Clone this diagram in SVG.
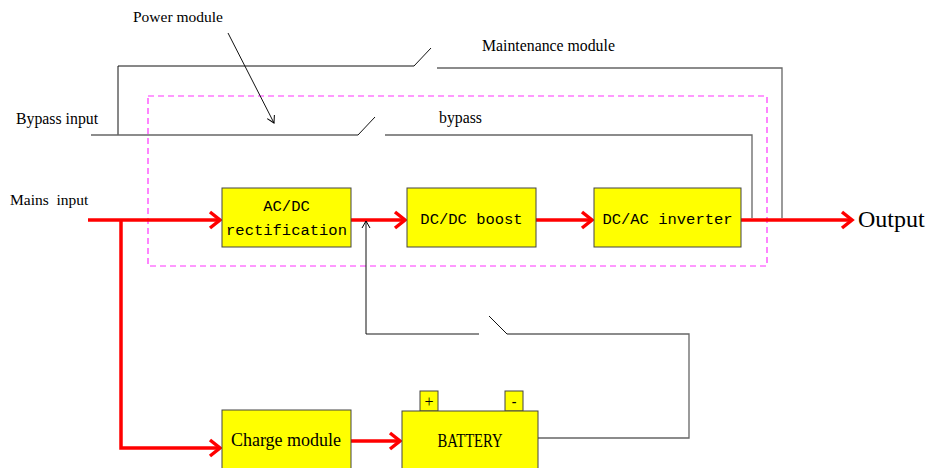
<svg xmlns="http://www.w3.org/2000/svg" width="929" height="468" viewBox="0 0 929 468">
<style>
.serif{font-family:"Liberation Serif","Times New Roman",serif;fill:#000}
.mono{font-family:"Liberation Mono","Courier New",monospace;fill:#000;font-size:15.5px}
.box{fill:#ffff00;stroke:#444;stroke-width:1}
.red{fill:none;stroke:#ff0000;stroke-width:3.5}
.thin{fill:none;stroke:#111;stroke-width:1}
.grey{fill:none;stroke:#666;stroke-width:1.3}
.dash{fill:none;stroke:#ff33ff;stroke-width:1.2;stroke-dasharray:6 4}
</style>
<defs>
<marker id="ra" markerUnits="userSpaceOnUse" viewBox="0 0 16 20" markerWidth="16" markerHeight="20" refX="13" refY="10" orient="auto">
<path d="M3,2 L13,10 L3,18" fill="none" stroke="#ff0000" stroke-width="3.5"/>
</marker>
<marker id="ba" markerUnits="userSpaceOnUse" viewBox="0 0 10 10" markerWidth="10" markerHeight="10" refX="9" refY="5" orient="auto">
<path d="M2,1 L9,5 L2,9" fill="none" stroke="#000" stroke-width="1"/>
</marker>
</defs>
<rect width="929" height="468" fill="#fff"/>

<g id="labels">
<text class="serif" x="133" y="22" font-size="15.5">Power module</text>
<text class="serif" x="482" y="51" font-size="15.8">Maintenance module</text>
<text class="serif" x="16" y="124" font-size="15.8">Bypass input</text>
<text class="serif" x="439" y="123" font-size="15.8">bypass</text>
<text class="serif" x="10" y="205" font-size="15.5" xml:space="preserve">Mains  input</text>
<text class="serif" x="858" y="227" font-size="24">Output</text>
</g>

<g id="power-module">
<rect class="dash" x="148" y="96" width="619" height="170"/>
</g>

<g id="connectors">
<path class="thin" d="M228,33 L274,123" marker-end="url(#ba)"/>
<path class="thin" d="M118,135 V66 H414 L431,48"/>
<path class="grey" d="M437,68 H782 V218"/>
<path class="grey" d="M91,135 H358"/>
<path class="thin" d="M358,135 L375,117"/>
<path class="grey" d="M385,135 H752 V218"/>
<path class="red" d="M88,220 H220" marker-end="url(#ra)"/>
<path class="red" d="M121,220 V448 H220" marker-end="url(#ra)"/>
<path class="red" d="M351,220 H405" marker-end="url(#ra)"/>
<path class="red" d="M536,220 H592" marker-end="url(#ra)"/>
<path class="red" d="M741,220 H852" marker-end="url(#ra)"/>
<path class="red" d="M351,441 H400" marker-end="url(#ra)"/>
<path class="grey" d="M538,438 H689 V334 H507"/>
<path class="thin" d="M507,334 L489,316"/>
<path class="grey" d="M479,334 H366"/>
<path class="thin" d="M366,334 V221" marker-end="url(#ba)"/>
</g>

<g id="acdc">
<rect class="box" x="222" y="188" width="129" height="59"/>
<text class="mono" x="286.5" y="211" text-anchor="middle">AC/DC</text>
<text class="mono" x="286.5" y="235" text-anchor="middle">rectification</text>
</g>
<g id="dcdc">
<rect class="box" x="407" y="188" width="129" height="59"/>
<text class="mono" x="471.5" y="224" text-anchor="middle">DC/DC boost</text>
</g>
<g id="dcac">
<rect class="box" x="594" y="188" width="147" height="59"/>
<text class="mono" x="667.5" y="224" text-anchor="middle">DC/AC inverter</text>
</g>
<g id="charge">
<rect class="box" x="222" y="410" width="129" height="62"/>
<text class="serif" x="286" y="446" font-size="18" text-anchor="middle">Charge module</text>
</g>
<g id="battery">
<rect class="box" x="420" y="391" width="18" height="20"/>
<rect class="box" x="505" y="391" width="18" height="20"/>
<text class="serif" x="429" y="407" font-size="16" text-anchor="middle">+</text>
<text class="serif" x="514" y="406" font-size="14" font-weight="bold" text-anchor="middle">-</text>
<rect class="box" x="402" y="411" width="136" height="61"/>
<text class="serif" x="470" y="447" font-size="19" text-anchor="middle" textLength="65" lengthAdjust="spacingAndGlyphs">BATTERY</text>
</g>
</svg>
